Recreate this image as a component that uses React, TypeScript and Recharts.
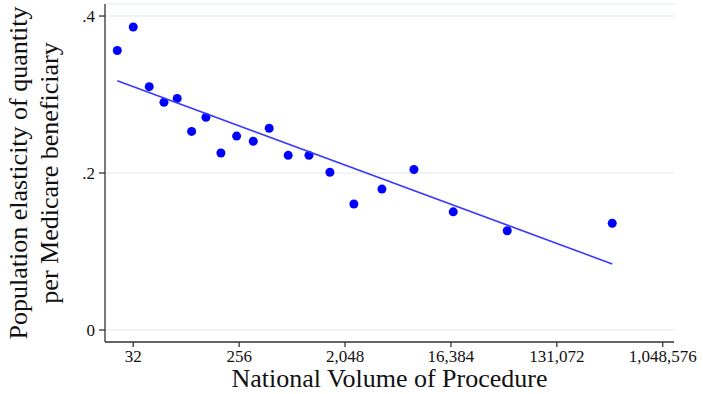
import React from "react";
import { ScatterChart, Scatter, XAxis, YAxis, CartesianGrid } from "recharts";

// national volume of procedure (log2 axis) and elasticity per bin
const volumes = [
  23.4, 32, 43.8, 58.5, 75.9, 100.7, 133.4, 179, 243.6, 337.8, 462, 671, 1008,
  1522, 2436, 4226, 7925, 17140, 49500, 389000,
];
const elasticity = [
  0.356, 0.386, 0.31, 0.29, 0.295, 0.253, 0.271, 0.2255, 0.247, 0.2405, 0.257,
  0.2225, 0.2225, 0.201, 0.1605, 0.1795, 0.2045, 0.1505, 0.1265, 0.136,
];

// fitted line endpoints
const fitVolumes = [23.4, 389000];
const fitValues = [0.3176, 0.0841];

const xTicks = [32, 256, 2048, 16384, 131072, 1048576];
const yTicks = [0, 0.2, 0.4];

const points = volumes.map((v, i) => ({ x: v, y: elasticity[i] }));
const fit = fitVolumes.map((v, i) => ({ x: v, y: fitValues[i] }));

const FONT = "'Liberation Serif', 'Times New Roman', serif";
const AXIS = "#333";

const fmtY = (v: number) => (v === 0 ? "0" : String(v).replace("0.", "."));

function YLabel(props: any) {
  const vb = props.viewBox || {};
  const cy = vb.y + vb.height / 2;
  return (
    <g fontFamily={FONT} fontSize={26} fill="#111">
      <text x={18} y={cy} textAnchor="middle" dominantBaseline="central" transform={`rotate(-90 18 ${cy})`}>
        Population elasticity of quantity
      </text>
      <text x={49} y={cy} textAnchor="middle" dominantBaseline="central" transform={`rotate(-90 49 ${cy})`}>
        per Medicare beneficiary
      </text>
    </g>
  );
}

function XLabel(props: any) {
  const vb = props.viewBox || {};
  const cx = vb.x + vb.width / 2;
  return (
    <text x={cx} y={387} textAnchor="middle" fontFamily={FONT} fontSize={26} fill="#111">
      National Volume of Procedure
    </text>
  );
}

export default function App() {
  return (
    <div style={{ position: "absolute", left: 0, top: 0, background: "#fff" }}>
      <ScatterChart
        width={703}
        height={394}
        margin={{ top: 4, right: 29, bottom: 0, left: 0 }}
      >
        <CartesianGrid horizontal vertical={false} stroke="#eaf1f1" strokeWidth={1.5} />
        <XAxis
          dataKey="x"
          type="number"
          scale="log"
          domain={[18.38, 1308000]}
          allowDataOverflow
          ticks={xTicks}
          tickFormatter={(v: number) => v.toLocaleString("en-US")}
          height={52}
          stroke={AXIS}
          strokeWidth={1.3}
          tickSize={5}
          tickMargin={3}
          tick={{ fill: "#111", fontSize: 17, fontFamily: FONT }}
          label={<XLabel />}
        />
        <YAxis
          dataKey="y"
          type="number"
          domain={[-0.0153, 0.4153]}
          allowDataOverflow
          ticks={yTicks}
          tickFormatter={fmtY}
          width={105}
          stroke={AXIS}
          strokeWidth={1.3}
          tickSize={6}
          tickMargin={4}
          tick={{ fill: "#111", fontSize: 17, fontFamily: FONT }}
          label={<YLabel />}
        />
        <Scatter data={points} fill="#0000ff" isAnimationActive={false} shape={(p: any) => <circle cx={p.cx} cy={p.cy} r={4.5} fill="#0000ff" />} />
        <Scatter
          data={fit}
          line={{ stroke: "#3a3aff", strokeWidth: 1.6 }}
          shape={() => null}
          isAnimationActive={false}
        />
      </ScatterChart>
    </div>
  );
}
